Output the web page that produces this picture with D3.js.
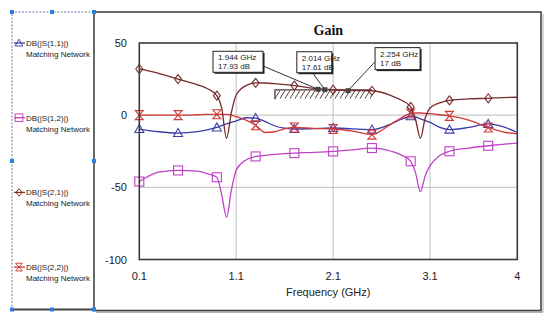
<!DOCTYPE html>
<html><head><meta charset="utf-8">
<script src="https://cdn.jsdelivr.net/npm/d3@7"></script>
<style>body{margin:0;background:#fff}svg{display:block}</style>
</head><body>
<script>
// ---- data ----
const freq = [0.1,0.3,0.5,0.7,0.8,0.9,0.95,1.0,1.05,1.1,1.2,1.3,1.4,1.5,1.6,1.7,1.9,2.1,2.3,2.5,2.7,2.8,2.9,2.95,3.0,3.05,3.1,3.2,3.3,3.5,3.7,3.85,4.0];
const s11 = [-9.6,-11.5,-12.4,-11.4,-10.2,-8.5,-7.2,-6,-5,-4,-1.8,-2.0,-4.5,-7.5,-9,-9.6,-9.3,-8.9,-9.5,-10,-6,-3,-0.8,-1.2,-2.5,-3.8,-5,-8.5,-10,-8.5,-6.1,-8,-12];
const s12 = [-46,-39.5,-38.3,-38.8,-40.5,-43,-55,-70.7,-52,-38,-31,-28.6,-27.8,-27.2,-26.7,-26.3,-25.8,-25.1,-24,-22.8,-25,-27.5,-32,-40,-53,-42,-35,-28,-25,-22.8,-21.2,-20.2,-19.3];
const s21 = [32,29,25,21,18.5,13.5,5,-16,2,14,20.5,22.4,22.3,21.8,21.2,20.5,18.5,17.6,17.1,16.9,13.5,10.5,5.7,-3,-16,-2,5,8.5,10.3,11.3,11.7,12.2,12.4];
const s22 = [0,0,0,0.3,0.5,0.6,0.6,0.5,0,-1,-3.5,-7,-12,-11.5,-9.5,-8.5,-9.2,-9.6,-11,-13.5,-6,-2,1.2,1.5,1.5,1.2,1.0,0.3,-0.5,-3.5,-8.5,-11.5,-13];
const markerFreqs = [0.1,0.5,0.9,1.3,1.7,2.1,2.5,2.9,3.3,3.7];
const seriesNames = ["DB(|S(1,1)|)","DB(|S(1,2)|)","DB(|S(2,1)|)","DB(|S(2,2)|)"];
const seriesSub = "Matching Network";
const xTicks = [0.1,1.1,2.1,3.1,4];
const yTicks = [50,0,-50,-100];
const annFreqs = [1.944,2.014,2.254];
const annVals = [17.93,17.61,17];
const annLabels = [["1.944 GHz","17.93 dB"],["2.014 GHz","17.61 dB"],["2.254 GHz","17 dB"]];
const specRange = [1.5,2.5];
const specLevel = 17.5;
const specDepth = 6.5;

// ---- setup ----
const W=550,H=323;
const svg=d3.select("body").append("svg").attr("width",W).attr("height",H);
const defs=svg.append("defs");
const pat=defs.append("pattern").attr("id","hatch").attr("patternUnits","userSpaceOnUse").attr("width",5).attr("height",9);
pat.append("path").attr("d","M-1,10 L6,-1").attr("stroke","#5a4040").attr("stroke-width",1);

const x=d3.scaleLinear().domain([0.1,4]).range([139.3,517.3]);
const y=d3.scaleLinear().domain([-100,50]).range([259.5,43]);

// outer frame
svg.append("rect").attr("x",94).attr("y",12).attr("width",447).attr("height",298.5).attr("fill","none").attr("stroke","#444").attr("stroke-width",1.6);
svg.append("line").attr("x1",96).attr("x2",543).attr("y1",312).attr("y2",312).attr("stroke","#999").attr("stroke-width",1.5);
svg.append("line").attr("x1",543).attr("x2",543).attr("y1",14).attr("y2",312).attr("stroke","#bbb").attr("stroke-width",1.2);
// legend selection box
svg.append("path").attr("d","M94,12 H12 V309.5").attr("fill","none").attr("stroke","#6b7b9b").attr("stroke-width",1).attr("stroke-dasharray","2,1.5");
svg.append("line").attr("x1",12).attr("x2",94).attr("y1",309.5).attr("y2",309.5).attr("stroke","#444").attr("stroke-width",2);
[[12,12],[52,12],[94,12],[12,161],[94,161],[12,309.5],[52,309.5],[94,309.5]].forEach(p=>{
  svg.append("rect").attr("x",p[0]-2).attr("y",p[1]-2).attr("width",4).attr("height",4).attr("fill","#2a7de1");
});

// grid
const g=svg.append("g");
g.selectAll(".vg").data(xTicks.slice(1,-1)).join("line").attr("x1",d=>x(d)).attr("x2",d=>x(d)).attr("y1",y(50)).attr("y2",y(-100)).attr("stroke","#c8c8c8").attr("stroke-width",1.2);
g.selectAll(".hg").data(yTicks.slice(1,-1)).join("line").attr("y1",d=>y(d)).attr("y2",d=>y(d)).attr("x1",x(0.1)).attr("x2",x(4)).attr("stroke","#c8c8c8").attr("stroke-width",1.2);

// axes labels
g.selectAll(".xt").data(xTicks).join("text").attr("x",d=>x(d)).attr("y",280).attr("text-anchor","middle").attr("font-family","Liberation Sans, Arial").attr("font-size",11).attr("fill","#222").text(d=>d);
g.selectAll(".yt").data(yTicks).join("text").attr("x",127).attr("y",d=>y(d)+4).attr("text-anchor","end").attr("font-family","Liberation Sans, Arial").attr("font-size",11).attr("fill","#222").text(d=>d);
svg.append("text").attr("x",(x(0.1)+x(4))/2).attr("y",296).attr("text-anchor","middle").attr("font-family","Liberation Sans, Arial").attr("font-size",11).attr("fill","#222").text("Frequency (GHz)");
svg.append("text").attr("x",(x(0.1)+x(4))/2).attr("y",35).attr("text-anchor","middle").attr("font-family","Liberation Serif, Times New Roman").attr("font-weight","bold").attr("font-size",14).attr("fill","#111").text("Gain");

// spec hatch
const sx0=x(specRange[0]), sx1=x(specRange[1]), sy=y(specLevel), sb=y(specLevel-specDepth);
svg.append("rect").attr("x",sx0).attr("y",sy).attr("width",sx1-sx0).attr("height",sb-sy).attr("fill","url(#hatch)");
svg.append("path").attr("d",`M${sx0},${sb} V${sy} H${sx1}`).attr("fill","none").attr("stroke","#4a3a3a").attr("stroke-width",1.3);

// series
const cols=["#3c3ca8","#c040c8","#7a2a2a","#d03a3a"];
const vals=[s11,s12,s21,s22];
const line=d3.line().x(d=>x(d[0])).y(d=>y(d[1])).curve(d3.curveMonotoneX);
function marker(sel,k,cx,cy,c){
  const gg=sel.append("g").attr("transform",`translate(${cx},${cy})`);
  const st={fill:"none",stroke:c,"stroke-width":1.1};
  let p;
  if(k===0) p=gg.append("path").attr("d","M0,-4.5 L4.5,3.5 L-4.5,3.5 Z");
  else if(k===1) p=gg.append("rect").attr("x",-4.5).attr("y",-4.5).attr("width",9).attr("height",9);
  else if(k===2) p=gg.append("path").attr("d","M0,-4.5 L3.5,0 L0,4.5 L-3.5,0 Z");
  else p=gg.append("path").attr("d","M-4,-4.5 H4 L-4,4.5 H4 Z");
  Object.entries(st).forEach(([a,b])=>p.attr(a,b));
}
const order=[1,0,3,2];
order.forEach(k=>{
  const pts=freq.map((f,i)=>[f,vals[k][i]]);
  svg.append("path").attr("d",line(pts)).attr("fill","none").attr("stroke",cols[k]).attr("stroke-width",1.3);
  markerFreqs.forEach(f=>{
    const i=freq.indexOf(f);
    marker(svg,k,x(f),y(vals[k][i]),cols[k]);
  });
});

// annotations
const offs=[[-105,-38,50,21],[-28,-38,35,21],[27,-43,45,22]];
const anchors=[[1,0.7],[0.45,1],[0,0.64]];
annFreqs.forEach((f,i)=>{
  const px=x(f),py=y(annVals[i]);
  const bx=px+offs[i][0],by=py+offs[i][1],bw=offs[i][2],bh=offs[i][3];
  svg.append("line").attr("x1",bx+anchors[i][0]*bw).attr("y1",by+anchors[i][1]*bh).attr("x2",px).attr("y2",py).attr("stroke","#333").attr("stroke-width",1);
  svg.append("rect").attr("x",px-2.5).attr("y",py-2.5).attr("width",5).attr("height",5).attr("fill","#444");
  svg.append("rect").attr("x",bx+1.5).attr("y",by+1.5).attr("width",bw).attr("height",bh).attr("fill","#222");
  svg.append("rect").attr("x",bx).attr("y",by).attr("width",bw).attr("height",bh).attr("fill","#fff").attr("stroke","#222").attr("stroke-width",1);
  annLabels[i].forEach((t,j)=>{
    svg.append("text").attr("x",bx+5).attr("y",by+9+j*9).attr("font-family","Liberation Sans, Arial").attr("font-size",8).attr("fill","#222").text(t);
  });
});

// plot border
svg.append("rect").attr("x",x(0.1)).attr("y",y(50)).attr("width",x(4)-x(0.1)).attr("height",y(-100)-y(50)).attr("fill","none").attr("stroke","#3a3a3a").attr("stroke-width",1.6);

// legend
seriesNames.forEach((n,k)=>{
  const ly=43+k*74.7;
  svg.append("line").attr("x1",14).attr("x2",25).attr("y1",ly).attr("y2",ly).attr("stroke",cols[k]).attr("stroke-width",1.3);
  const gg=svg.append("g").attr("transform",`translate(19,${ly}) scale(0.85)`);
  marker(gg,k,0,0,cols[k]);
  svg.append("text").attr("x",26).attr("y",ly+3).attr("font-family","Liberation Sans, Arial").attr("font-size",8).attr("fill","#222").text(n);
  svg.append("text").attr("x",26).attr("y",ly+14).attr("font-family","Liberation Sans, Arial").attr("font-size",8).attr("fill","#222").text(seriesSub);
});
</script>
</body></html>
